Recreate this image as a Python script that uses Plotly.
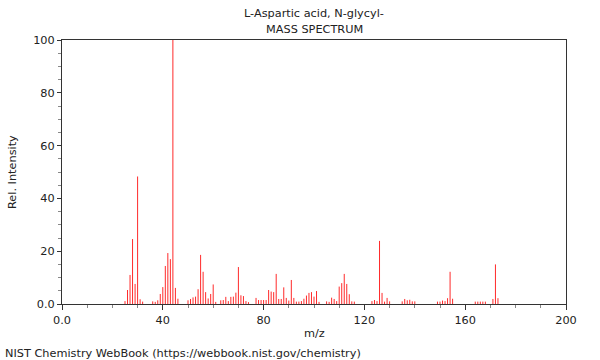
import plotly.graph_objects as go

mz = [25, 26, 27, 28, 29, 30, 31, 32, 36, 37, 38, 39, 40, 41, 42, 43, 44, 45, 46,
      50, 51, 52, 53, 54, 55, 56, 57, 58, 59, 60, 61, 63, 64, 65, 66, 67, 68, 69,
      70, 71, 72, 73, 74, 77, 78, 79, 80, 81, 82, 83, 84, 85, 86, 87, 88, 89, 90,
      91, 92, 93, 94, 95, 96, 97, 98, 99, 100, 101, 102, 105, 106, 107, 108, 109,
      110, 111, 112, 113, 114, 115, 116, 123, 124, 125, 126, 127, 128, 129, 130,
      135, 136, 137, 138, 139, 140, 149, 150, 151, 152, 153, 154, 155,
      164, 165, 166, 167, 168, 171, 172, 173]
intensity = [1.1, 5.3, 11.0, 24.6, 7.6, 48.3, 1.8, 0.9, 1.0, 0.8, 1.4, 3.8, 6.4, 14.4, 19.3, 17.0, 100.0, 6.1, 2.0,
             1.4, 1.9, 2.5, 2.8, 5.6, 18.6, 12.2, 4.5, 2.1, 3.8, 7.4, 0.8, 1.4, 1.5, 2.7, 1.1, 2.7, 2.8, 4.3,
             14.0, 3.3, 3.0, 1.1, 0.7, 2.3, 1.5, 1.5, 1.5, 1.5, 5.3, 4.7, 4.5, 11.4, 1.9, 1.9, 6.3, 2.3, 1.3,
             9.1, 2.3, 0.9, 0.9, 1.1, 2.0, 3.2, 4.2, 4.5, 2.8, 4.9, 0.8, 1.0, 0.8, 2.4, 1.9, 1.1,
             6.6, 7.9, 11.4, 7.6, 3.7, 1.0, 0.9, 1.1, 1.5, 1.1, 23.9, 4.2, 0.9, 2.3, 1.0,
             1.0, 1.9, 1.4, 1.6, 1.0, 1.0, 0.9, 0.9, 1.3, 1.1, 2.2, 12.2, 2.0,
             0.9, 0.9, 0.9, 0.9, 0.9, 1.9, 15.0, 2.2]

x_tickvals = [0, 40, 80, 120, 160, 200]
x_ticktext = ["0.0", "40", "80", "120", "160", "200"]
y_tickvals = [0, 20, 40, 60, 80, 100]
y_ticktext = ["0.0", "20", "40", "60", "80", "100"]

title_line1 = "L-Aspartic acid, N-glycyl-"
title_line2 = "MASS SPECTRUM"
x_title = "m/z"
y_title = "Rel. Intensity"
footer = "NIST Chemistry WebBook (https://webbook.nist.gov/chemistry)"

font_family = "DejaVu Sans"
axis_color = "#333333"
font_size = 11.3

# stick spectrum: one vertical segment per peak, from baseline to intensity
stick_x, stick_y = [], []
for m, v in zip(mz, intensity):
    stick_x += [m, m, None]
    stick_y += [0, v, None]

fig = go.Figure()
fig.add_trace(go.Scatter(x=stick_x, y=stick_y, mode="lines",
                         line=dict(color="#ff2a2a", width=1),
                         hoverinfo="skip"))

fig.update_layout(
    width=600, height=360,
    margin=dict(l=62, r=34, t=40, b=56, pad=0),
    paper_bgcolor="white", plot_bgcolor="white",
    showlegend=False,
    font=dict(family=font_family, size=font_size, color="#222222"),
)
fig.update_xaxes(range=[0, 200], tickvals=x_tickvals, ticktext=x_ticktext,
                 showgrid=False, zeroline=False, showline=True, mirror=True,
                 linecolor=axis_color, linewidth=1, ticks="outside", ticklen=5,
                 tickcolor=axis_color, tickfont=dict(size=font_size),
                 minor=dict(dtick=10, tick0=0, ticklen=3, tickcolor="#888888", ticks="outside"))
fig.update_yaxes(range=[0, 100], tickvals=y_tickvals, ticktext=y_ticktext,
                 showgrid=False, zeroline=False, showline=True, mirror=True,
                 linecolor=axis_color, linewidth=1, ticks="outside", ticklen=4,
                 tickcolor=axis_color, tickfont=dict(size=font_size),
                 minor=dict(dtick=5, tick0=0, ticklen=3, tickcolor="#888888", ticks="outside"))

ann_font = dict(family=font_family, size=font_size, color="#222222")
fig.add_annotation(text=title_line1, xref="paper", yref="paper", x=0.5, y=1.0985,
                   xanchor="center", yanchor="middle", showarrow=False, font=ann_font)
fig.add_annotation(text=title_line2, xref="paper", yref="paper", x=0.5, y=1.038,
                   xanchor="center", yanchor="middle", showarrow=False, font=ann_font)
fig.add_annotation(text=x_title, xref="paper", yref="paper", x=0.5, y=-0.110,
                   xanchor="center", yanchor="middle", showarrow=False, font=ann_font)
fig.add_annotation(text=y_title, xref="paper", yref="paper", x=-0.0992, y=0.5,
                   xanchor="center", yanchor="middle", textangle=-90, showarrow=False, font=ann_font)
fig.add_annotation(text=footer, xref="paper", yref="paper", x=-0.117, y=-0.186,
                   xanchor="left", yanchor="middle", showarrow=False, font=ann_font)

fig.write_html("out.html", config={"displayModeBar": False},
               post_script="document.body.style.margin='0';document.body.style.padding='0';")
